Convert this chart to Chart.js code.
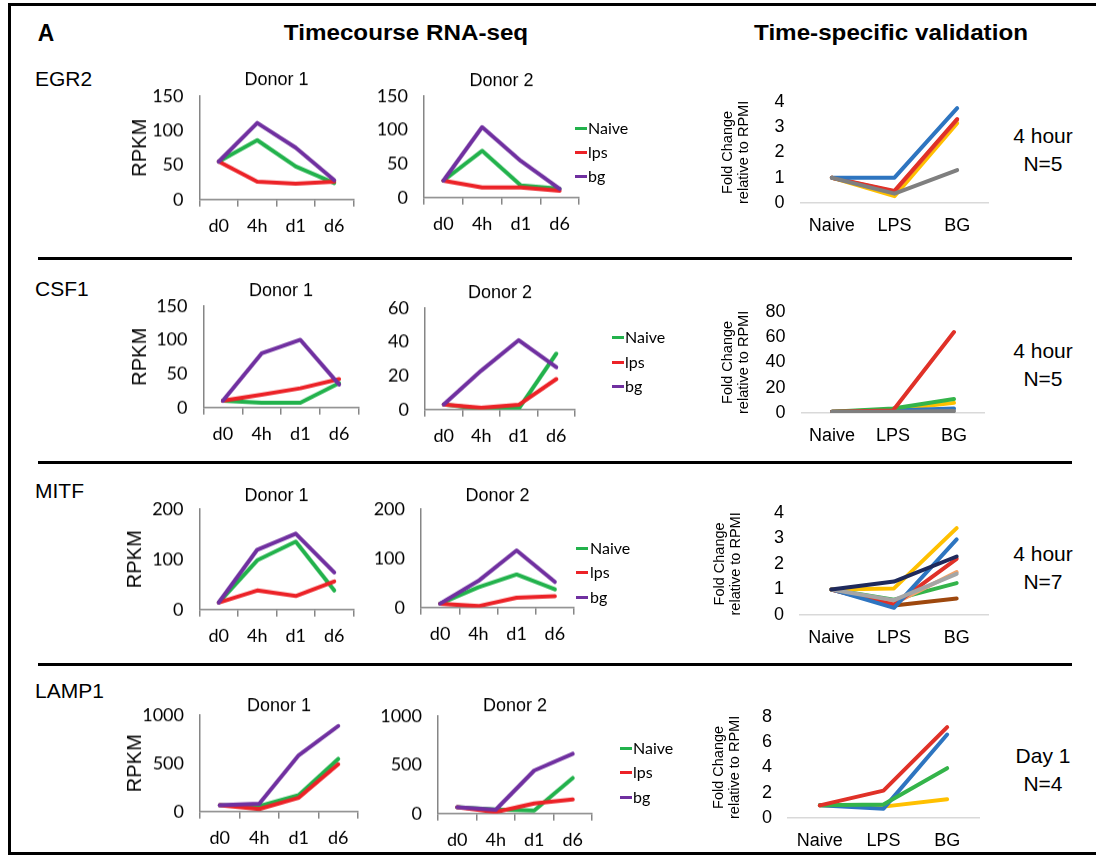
<!DOCTYPE html>
<html>
<head>
<meta charset="utf-8">
<script src="https://cdn.jsdelivr.net/npm/chart.js@4"></script>
<style>
  body { margin: 0; background: #fff; width: 1096px; height: 855px; overflow: hidden; position: relative; font-family: 'Liberation Sans', Arial, sans-serif; }
  .box { position: absolute; }
  .frame { position: absolute; left: 8px; top: 3px; width: 1100px; height: 852px; border: 3px solid #000; box-sizing: border-box; }
  .sep { position: absolute; left: 38px; width: 1034px; height: 3px; background: #000; }
  .t { position: absolute; white-space: nowrap; color: #000; line-height: 1; }
</style>
</head>
<body>
<div class="frame"></div>
<div class="sep" style="top:257px"></div>
<div class="sep" style="top:461px"></div>
<div class="sep" style="top:663px"></div>

<script>
// ---- data ----
const timepoints = ['d0', '4h', 'd1', 'd6'];
const seriesNames = ['Naive', 'lps', 'bg'];
const validationGroups = ['Naive', 'LPS', 'BG'];

// EGR2
const egr2D1Naive = [55, 86, 48, 24];
const egr2D1Lps = [55, 26, 23, 26];
const egr2D1Bg = [55, 111, 75, 28];
const egr2D2Naive = [25, 69, 18, 13];
const egr2D2Lps = [25, 15, 15, 10];
const egr2D2Bg = [25, 104, 54, 13];
// CSF1
const csf1D1Naive = [10, 7, 7, 36];
const csf1D1Lps = [10, 19, 28.5, 42];
const csf1D1Bg = [10, 80, 100, 34];
const csf1D2Naive = [3, 0.5, 0.5, 33];
const csf1D2Lps = [3, 1, 2.8, 18];
const csf1D2Bg = [3, 23, 41, 25];
// MITF
const mitfD1Naive = [14, 98, 135, 38];
const mitfD1Lps = [14, 38, 27, 56];
const mitfD1Bg = [14, 119, 151, 74];
const mitfD2Naive = [8, 41, 67, 37];
const mitfD2Lps = [8, 3, 20, 23];
const mitfD2Bg = [8, 54, 116, 52];
// LAMP1
const lamp1D1Naive = [65, 55, 170, 545];
const lamp1D1Lps = [65, 27, 143, 490];
const lamp1D1Bg = [65, 82, 583, 886];
const lamp1D2Naive = [64, 42, 32, 364];
const lamp1D2Lps = [64, 16, 103, 145];
const lamp1D2Bg = [64, 39, 441, 612];

// validation fold changes (one array per donor line)
const egr2ValYellow = [1, 0.27, 3.15];
const egr2ValOrange = [1, 0.45, 3.28];
const egr2ValRed = [1, 0.48, 3.32];
const egr2ValBlue = [1, 1, 3.75];
const egr2ValGray = [1, 0.37, 1.3];

const csf1ValYellow = [1, 2.5, 8];
const csf1ValBlue = [1, 2, 3.5];
const csf1ValGreen = [1, 3.5, 11];
const csf1ValRed = [1, 2, 64];
const csf1ValGray = [1, 1, 1.5];

const mitfValBrown = [1, 0.37, 0.65];
const mitfValGreen = [1, 0.6, 1.25];
const mitfValOrange = [1, 0.45, 1.68];
const mitfValRed = [1, 0.4, 2.2];
const mitfValBlue = [1, 0.28, 2.96];
const mitfValYellow = [1, 1.04, 3.4];
const mitfValGray = [1, 0.58, 1.61];
const mitfValNavy = [1, 1.31, 2.29];

const lamp1ValYellow = [1, 0.9, 1.48];
const lamp1ValBlue = [1, 0.74, 6.6];
const lamp1ValGreen = [1, 1.06, 3.94];
const lamp1ValRed = [1, 2.16, 7.18];

// ---- styling ----
const SANS = "'Liberation Sans', Arial, sans-serif";
const CAL = "Lato, 'Open Sans', sans-serif";
const AXIS = '#868686';
const GREEN = '#22b24c', RED = '#ec2227', PURPLE = '#7030a0';
const V = {
  blue: '#2e75c0', red: '#e03128', yellow: '#ffc000', gray: '#7f7f7f', lightGray: '#a5a5a5',
  orange: '#ed7d31', lightOrange: '#f4a36a', green: '#34b44a', brown: '#9e480e', navy: '#1f2a5c'
};

Chart.defaults.animation = false;
Chart.defaults.color = '#000';

function text(str, x, y, size, opts = {}) {
  const d = document.createElement('div');
  d.className = 't';
  d.textContent = str;
  d.style.left = x + 'px';
  d.style.top = y + 'px';
  d.style.fontSize = size + 'px';
  d.style.fontFamily = opts.family || SANS;
  if (opts.bold) d.style.fontWeight = 'bold';
  const tx = opts.align === 'left' ? '0' : '-50%';
  d.style.transformOrigin = opts.align === 'left' ? 'left center' : 'center center';
  d.style.transform = `translate(${tx}, -50%)` + (opts.scaleX ? ` scaleX(${opts.scaleX})` : '');
  document.body.appendChild(d);
}

function place(left, top, width, height) {
  const div = document.createElement('div');
  div.className = 'box';
  div.style.cssText = `left:${left}px;top:${top}px;width:${width}px;height:${height}px`;
  const c = document.createElement('canvas');
  div.appendChild(c);
  document.body.appendChild(div);
  return c;
}

const lineEl = { borderWidth: 4, tension: 0, borderJoinStyle: 'round', borderCapStyle: 'round' };

function donorChart(g) {
  const titleLH = 18 * 1.2;
  const left = g.yTitleX ? g.yTitleX - 12 : g.plot.l - 60;
  const top = g.titleY - titleLH / 2;
  const ml = g.plot.l - left;
  const mb = 45, pr = 6;
  const canvas = place(left, top, g.plot.r - left + pr, g.plot.b + mb - top);
  const colors = [GREEN, RED, PURPLE];
  const chart = new Chart(canvas, {
    type: 'line',
    data: {
      labels: timepoints,
      datasets: g.series.map((d, i) => ({
        label: seriesNames[i], data: d, borderColor: colors[i], backgroundColor: colors[i], order: 3 - i
      }))
    },
    options: {
      responsive: true,
      maintainAspectRatio: false,
      layout: { padding: { top: 0, right: pr, bottom: 0, left: 0 } },
      elements: { line: lineEl, point: { radius: 0 } },
      plugins: {
        legend: { display: false },
        tooltip: { enabled: false },
        title: {
          display: true, text: g.title, fullSize: false, color: '#000',
          font: { family: SANS, size: 18, weight: 'normal', lineHeight: 1.2 },
          padding: { top: 0, bottom: g.plot.t - top - titleLH }
        }
      },
      scales: {
        x: {
          offset: true,
          grid: { offset: true, drawOnChartArea: false, drawTicks: true, tickLength: 7, color: AXIS, lineWidth: 1.5 },
          border: { color: AXIS, width: 1.5 },
          ticks: { color: '#000', font: { family: CAL, size: 18 }, padding: 9, maxRotation: 0 },
          afterFit(s) { s.height = mb; }
        },
        y: {
          min: 0, max: g.max,
          grid: { display: true, drawOnChartArea: false, drawTicks: false },
          border: { display: true, color: AXIS, width: 1.5 },
          ticks: { stepSize: g.step, color: '#000', font: { family: CAL, size: 18 }, padding: 16, format: { useGrouping: false } },
          title: { display: !!g.yTitleX, text: 'RPKM', color: '#000', font: { family: SANS, size: 20, lineHeight: 1.2 }, padding: 0 },
          afterFit(s) { s.width = ml; }
        }
      }
    }
  });
  if (g.legend) {
    chart.data.datasets.forEach((ds, i) => {
      const ln = document.createElement('div');
      ln.style.cssText = `position:absolute;left:${g.legend.lineX}px;top:${g.legend.ys[i] - 1.5}px;width:12px;height:3px;background:${ds.borderColor}`;
      document.body.appendChild(ln);
      text(ds.label, g.legend.textX, g.legend.ys[i], 16, { family: CAL, align: 'left' });
    });
  }
}

function validationChart(g) {
  const lh = 14.5 * 1.1;
  const left = g.yTitleX - lh / 2;
  const top = g.plot.t - 20;
  const ml = g.plot.l - left;
  const mb = 36, pr = 4;
  const canvas = place(left, top, g.plot.r - left + pr, g.plot.b + mb - top);
  new Chart(canvas, {
    type: 'line',
    data: {
      labels: validationGroups,
      datasets: g.lines.map((l, i) => ({
        data: l.data, borderColor: l.color, backgroundColor: l.color, order: g.lines.length - i
      }))
    },
    options: {
      responsive: true,
      maintainAspectRatio: false,
      layout: { padding: { top: 20, right: pr, bottom: 0, left: 0 } },
      elements: { line: lineEl, point: { radius: 0 } },
      plugins: { legend: { display: false }, tooltip: { enabled: false } },
      scales: {
        x: {
          offset: true,
          grid: { display: false, drawTicks: false },
          border: { color: '#d9d9d9', width: 1.5 },
          ticks: { color: '#000', font: { family: SANS, size: 18 }, padding: 12, maxRotation: 0 },
          afterFit(s) { s.height = mb; }
        },
        y: {
          min: 0, max: g.max,
          grid: { display: false, drawTicks: false },
          border: { display: false },
          ticks: { stepSize: g.step, color: '#000', font: { family: SANS, size: 18 }, padding: 16 },
          title: {
            display: true, text: ['Fold Change', 'relative to RPMI'], color: '#000',
            font: { family: SANS, size: 14.5, lineHeight: 1.1 }, padding: 0
          },
          afterFit(s) { s.width = ml; }
        }
      }
    }
  });
}

// ---- headers and labels ----
text('A', 46, 33, 24, { bold: true, scaleX: 0.95 });
text('Timecourse RNA-seq', 406, 33, 22, { bold: true, scaleX: 1.1 });
text('Time-specific validation', 891, 33, 22, { bold: true, scaleX: 1.1 });

text('EGR2', 35, 78, 21, { align: 'left' });
text('CSF1', 35, 288, 21, { align: 'left' });
text('MITF', 35, 490, 21, { align: 'left' });
text('LAMP1', 35, 690, 21, { align: 'left' });

text('4 hour', 1043, 135, 21); text('N=5', 1043, 163, 21);
text('4 hour', 1043, 350, 21); text('N=5', 1043, 378, 21);
text('4 hour', 1043, 553, 21); text('N=7', 1043, 581, 21);
text('Day 1', 1043, 755, 21); text('N=4', 1043, 783, 21);

// ---- row 1: EGR2 ----
donorChart({ title: 'Donor 1', titleY: 80, yTitleX: 139.5, plot: { l: 199, t: 96, r: 353, b: 199 }, max: 150, step: 50,
  series: [egr2D1Naive, egr2D1Lps, egr2D1Bg] });
donorChart({ title: 'Donor 2', titleY: 80, plot: { l: 424, t: 95, r: 579, b: 197 }, max: 150, step: 50,
  series: [egr2D2Naive, egr2D2Lps, egr2D2Bg], legend: { lineX: 575, textX: 588, ys: [128, 152, 176] } });
validationChart({ yTitleX: 727.5, plot: { l: 800, t: 95, r: 988, b: 203 }, max: 4, step: 1, lines: [
  { data: egr2ValYellow, color: V.yellow }, { data: egr2ValOrange, color: V.orange }, { data: egr2ValRed, color: V.red },
  { data: egr2ValBlue, color: V.blue }, { data: egr2ValGray, color: V.gray }] });

// ---- row 2: CSF1 ----
donorChart({ title: 'Donor 1', titleY: 290, yTitleX: 139.5, plot: { l: 203, t: 305, r: 358, b: 407 }, max: 150, step: 50,
  series: [csf1D1Naive, csf1D1Lps, csf1D1Bg] });
donorChart({ title: 'Donor 2', titleY: 292, plot: { l: 425, t: 307, r: 575, b: 409 }, max: 60, step: 20,
  series: [csf1D2Naive, csf1D2Lps, csf1D2Bg], legend: { lineX: 612, textX: 625, ys: [337, 362, 386] } });
validationChart({ yTitleX: 727.5, plot: { l: 801, t: 305, r: 984, b: 413 }, max: 80, step: 20, lines: [
  { data: csf1ValYellow, color: V.yellow }, { data: csf1ValBlue, color: V.blue }, { data: csf1ValGreen, color: V.green },
  { data: csf1ValRed, color: V.red }, { data: csf1ValGray, color: V.gray }] });

// ---- row 3: MITF ----
donorChart({ title: 'Donor 1', titleY: 493, yTitleX: 134.5, plot: { l: 199, t: 506, r: 353, b: 609 }, max: 200, step: 100,
  series: [mitfD1Naive, mitfD1Lps, mitfD1Bg] });
donorChart({ title: 'Donor 2', titleY: 493, plot: { l: 421, t: 506, r: 574, b: 607 }, max: 200, step: 100,
  series: [mitfD2Naive, mitfD2Lps, mitfD2Bg], legend: { lineX: 576, textX: 590, ys: [548, 572, 597] } });
validationChart({ yTitleX: 720, plot: { l: 800, t: 506, r: 988, b: 615 }, max: 4, step: 1, lines: [
  { data: mitfValBrown, color: V.brown }, { data: mitfValGreen, color: V.green }, { data: mitfValOrange, color: V.lightOrange },
  { data: mitfValRed, color: V.red }, { data: mitfValBlue, color: V.blue }, { data: mitfValYellow, color: V.yellow },
  { data: mitfValGray, color: V.lightGray }, { data: mitfValNavy, color: V.navy }] });

// ---- row 4: LAMP1 ----
donorChart({ title: 'Donor 1', titleY: 699, yTitleX: 135, plot: { l: 200, t: 708, r: 358, b: 811 }, max: 1000, step: 500,
  series: [lamp1D1Naive, lamp1D1Lps, lamp1D1Bg] });
donorChart({ title: 'Donor 2', titleY: 700, plot: { l: 438, t: 710, r: 592, b: 813 }, max: 1000, step: 500,
  series: [lamp1D2Naive, lamp1D2Lps, lamp1D2Bg], legend: { lineX: 620, textX: 633, ys: [748, 772, 797] } });
validationChart({ yTitleX: 719, plot: { l: 788, t: 710, r: 979, b: 818 }, max: 8, step: 2, lines: [
  { data: lamp1ValYellow, color: V.yellow }, { data: lamp1ValBlue, color: V.blue },
  { data: lamp1ValGreen, color: V.green }, { data: lamp1ValRed, color: V.red }] });
</script>
</body>
</html>
